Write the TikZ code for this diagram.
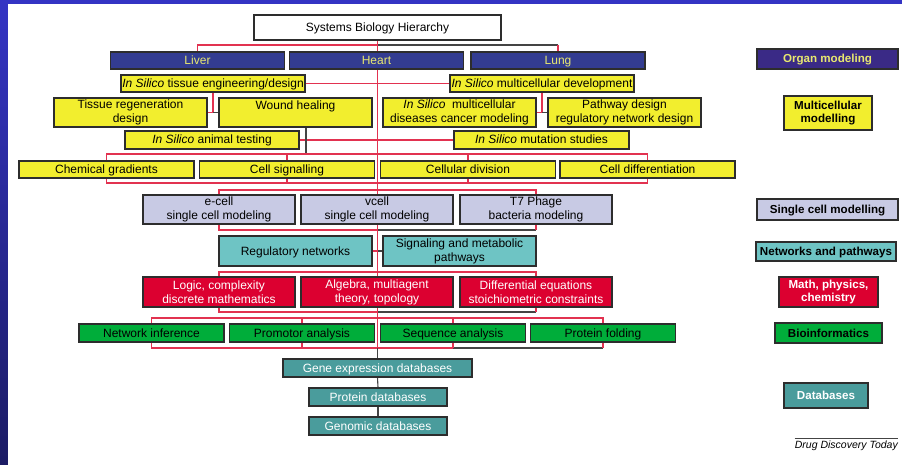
\documentclass[tikz,border=0pt]{standalone}
\usepackage{fontspec}
\setmainfont{Liberation Sans}
\usepackage{xcolor}
\usepackage{tikz}
\usetikzlibrary{backgrounds}
\definecolor{organblue}{RGB}{51,60,145}
\definecolor{organviolet}{RGB}{58,42,134}
\definecolor{labelyellow}{RGB}{232,232,112}
\definecolor{cellyellow}{RGB}{242,238,46}
\definecolor{lavender}{RGB}{200,202,228}
\definecolor{netteal}{RGB}{110,196,196}
\definecolor{mathred}{RGB}{220,0,48}
\definecolor{biogreen}{RGB}{0,173,58}
\definecolor{dbteal}{RGB}{74,156,156}
\definecolor{linkred}{RGB}{226,50,80}
\definecolor{linkdark}{RGB}{68,68,68}
\definecolor{boxedge}{RGB}{45,45,45}
\definecolor{frametop}{RGB}{52,52,196}
\definecolor{framebot}{RGB}{28,28,100}

\begin{document}
\begin{tikzpicture}[x=1pt,y=-1pt,
  box/.style={draw=boxedge,line width=1.2pt,inner sep=0pt,align=center,
    font={\fontsize{12}{14}\selectfont}},
  oneline/.style={text height=8pt,text depth=0pt},
  organbox/.style={box,oneline,fill=organblue,text=labelyellow,minimum width=174pt,minimum height=17pt},
  yellowbox/.style={box,fill=cellyellow},
  cellbox/.style={box,fill=lavender,minimum width=152pt,minimum height=29pt},
  netbox/.style={box,fill=netteal,minimum width=153pt,minimum height=30pt},
  mathbox/.style={box,fill=mathred,text=white,minimum width=152pt,minimum height=30pt},
  biobox/.style={box,oneline,fill=biogreen,minimum width=145pt,minimum height=18pt},
  dbbox/.style={box,oneline,fill=dbteal,text=white,minimum height=18pt},
  legend/.style={box,font={\fontsize{11.6}{13.5}\selectfont\bfseries}},
  redlink/.style={draw=linkred,line width=1.1pt},
  darklink/.style={draw=linkdark,line width=1.1pt}]
  \useasboundingbox (0,0) rectangle (902,465);

  \node[box,oneline,fill=white,minimum width=247pt,minimum height=25pt] (title) at (377.5,27.5) {Systems Biology Hierarchy};
  \foreach \n/\x/\t in {liver/197.5/Liver, heart/376.5/Heart, lung/558/Lung}
    \node[organbox] (\n) at (\x,60.5) {\t};
  \node[yellowbox,oneline,minimum width=184pt,minimum height=17pt] (tissueeng) at (213,83.5) {\textit{In Silico} tissue engineering/design};
  \node[yellowbox,oneline,minimum width=184pt,minimum height=17pt] (multidev) at (542,83.5) {\textit{In Silico} multicellular development};
  \node[yellowbox,minimum width=153pt,minimum height=29pt] (tissuereg) at (130.5,112.5) {Tissue regeneration\\design};
  \node[yellowbox,minimum width=153pt,minimum height=29pt] (wound) at (295.5,112.5) {Wound healing\\\mbox{}};
  \node[yellowbox,minimum width=153pt,minimum height=29pt] (diseases) at (459.5,112.5) {\textit{In Silico}\ \ multicellular\\diseases cancer modeling};
  \node[yellowbox,minimum width=153pt,minimum height=29pt] (pathway) at (624.5,112.5) {Pathway design\\regulatory network design};
  \node[yellowbox,oneline,minimum width=174pt,minimum height=18pt] (animal) at (212,140) {\textit{In Silico} animal testing};
  \node[yellowbox,oneline,minimum width=175pt,minimum height=18pt] (mutation) at (541.5,140) {\textit{In Silico} mutation studies};
  \foreach \n/\x/\t in {chem/106.5/Chemical gradients, cellsig/287/Cell signalling,
      celldiv/468/Cellular division, celldiff/647.5/Cell differentiation}
    \node[yellowbox,oneline,minimum width=175pt,minimum height=17pt] (\n) at (\x,169.5) {\t};
  \foreach \n/\x/\t in {ecell/219/{e-cell\\single cell modeling}, vcell/377/{vcell\\single cell modeling},
      t7/536/{T7 Phage\\bacteria modeling}}
    \node[cellbox] (\n) at (\x,209.5) {\t};
  \node[netbox,oneline] (regnet) at (295.5,251) {Regulatory networks};
  \node[netbox] (signal) at (459.5,251) {Signaling and metabolic\\pathways};
  \foreach \n/\x/\t in {logic/219/{Logic, complexity\\discrete mathematics}, algebra/377/{Algebra, multiagent\\theory, topology},
      diffeq/536/{Differential equations\\stoichiometric constraints}}
    \node[mathbox] (\n) at (\x,292) {\t};
  \foreach \n/\x/\t in {netinf/151.5/Network inference, promotor/302/Promotor analysis,
      sequence/453/Sequence analysis, folding/603/Protein folding}
    \node[biobox] (\n) at (\x,333) {\t};
  \node[dbbox,minimum width=189pt] (geneexp) at (377.5,368) {Gene expression databases};
  \node[dbbox,minimum width=138pt] (protdb) at (378,397) {Protein databases};
  \node[dbbox,minimum width=138pt] (genomic) at (378,426) {Genomic databases};

  \node[legend,oneline,fill=organviolet,text=labelyellow,minimum width=141pt,minimum height=20pt] (organleg) at (827.5,59) {Organ modeling};
  \node[legend,fill=cellyellow,minimum width=88pt,minimum height=34pt] (multileg) at (828,113) {Multicellular\\modelling};
  \node[legend,oneline,fill=lavender,minimum width=141pt,minimum height=21pt] (singleleg) at (827.5,209.5) {Single cell modelling};
  \node[legend,oneline,fill=netteal,minimum width=140pt,minimum height=19pt] (netleg) at (826,251.5) {Networks and pathways};
  \node[legend,fill=mathred,text=white,minimum width=99pt,minimum height=30pt] (mathleg) at (828.5,292) {Math, physics,\\chemistry};
  \node[legend,oneline,fill=biogreen,minimum width=107pt,minimum height=20pt] (bioleg) at (828.5,333) {Bioinformatics};
  \node[legend,oneline,fill=dbteal,text=white,minimum width=84pt,minimum height=25pt] (dbleg) at (826,395.5) {Databases};
  \node[font={\fontsize{10.5}{12}\selectfont\itshape},anchor=east,inner sep=0pt] (source) at (898,446) {Drug Discovery Today};

  \coordinate (organrail) at (0,45);
  \coordinate (cellrail) at (0,154);
  \coordinate (cellbase) at (0,183);
  \coordinate (scrail) at (0,190);
  \coordinate (scbase) at (0,230);
  \coordinate (mathrail) at (0,272);
  \coordinate (mathbase) at (0,312);
  \coordinate (biorail) at (0,318);
  \coordinate (biobase) at (0,348);
  \coordinate (woundtap) at (306,0);
  \coordinate (sourcerule) at (0,438);

  \begin{pgfonlayer}{background}
    \shade[top color=frametop,bottom color=framebot] (0,0) rectangle (902,465);
    \fill[white] (8,4) rectangle (902,465);

    \draw[redlink] (liver.north) |- (title.south |- organrail);
    \draw[darklink] (title.south |- organrail) -- (lung.north |- organrail);
    \draw[redlink] (lung.north |- organrail) -- (lung.north);
    \draw[redlink] (tissueeng.east) -- (multidev.west);
    \draw[redlink] (tissueeng.south) |- (tissuereg.east);
    \draw[darklink] (tissueeng.south |- wound.west) -- (wound.west);
    \draw[redlink] (multidev.south) |- (diseases.east);
    \draw[darklink] (multidev.south |- pathway.west) -- (pathway.west);
    \draw[redlink] (animal.east) -- (mutation.west);
    \draw[darklink] (woundtap |- wound.south) -- (woundtap |- cellrail);

    \draw[redlink] (chem.center |- cellrail) rectangle (celldiff.center |- cellbase);
    \foreach \n in {cellsig,celldiv}
      \draw[redlink] (\n.center |- cellrail) -- (\n.center |- cellbase);

    \draw[darklink] (vcell.center |- scbase) -- (t7.center |- scbase);
    \draw[redlink] (vcell.center |- scbase) -| (ecell.center |- scrail) -| (t7.center |- scbase);

    \draw[redlink] (regnet.east) -- (title.south |- signal.west);
    \draw[darklink] (title.south |- signal.west) -- (signal.west);

    \draw[darklink] (algebra.center |- mathbase) -- (diffeq.center |- mathbase);
    \draw[redlink] (algebra.center |- mathbase) -| (logic.center |- mathrail) -| (diffeq.center |- mathbase);

    \draw[darklink] (sequence.center |- biobase) -- (folding.center |- biobase);
    \draw[redlink] (sequence.center |- biobase) -| (netinf.center |- biorail) -| (folding.center |- biobase);
    \foreach \n in {promotor,sequence}
      \draw[redlink] (\n.center |- biorail) -- (\n.center |- biobase);

    \draw[redlink] (title.south) -- (title.south |- biobase);
    \draw[darklink] (title.south |- biobase) -- (geneexp.north);
    \draw[darklink] (geneexp.south) -- (protdb.north);
    \draw[darklink] (protdb.south) -- (genomic.north);
  \end{pgfonlayer}
  \draw[linkdark,line width=0.6pt] (source.west |- sourcerule) -- (source.east |- sourcerule);
\end{tikzpicture}
\end{document}
